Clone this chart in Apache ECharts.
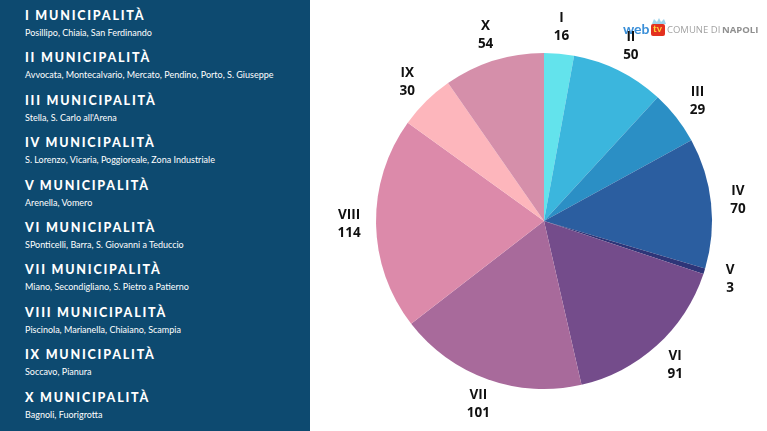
<!DOCTYPE html>
<html lang="it">
<head>
<meta charset="UTF-8">
<title>Municipalità di Napoli</title>
<style>
    html, body { margin: 0; padding: 0; background: #fff; }
    #wrap { position: relative; width: 767px; height: 431px; overflow: hidden; }
    #main { position: absolute; left: 0; top: 0; width: 767px; height: 431px; }
    #panel {
        position: absolute; left: 0; top: 0; width: 310px; height: 431px;
        background: #0d4a70; color: #fff; font-family: Lato, "Open Sans", sans-serif;
    }
    #panel .h {
        position: absolute; left: 25px; font-weight: 900; font-size: 12.5px;
        letter-spacing: 1.8px; line-height: 16px; white-space: nowrap;
    }
    #panel .s {
        position: absolute; left: 25px; font-size: 9px; line-height: 12px; white-space: nowrap;
    }
</style>
</head>
<body>
<div id="wrap">
    <div id="main"></div>
    <div id="panel"></div>
</div>
<script src="https://cdn.jsdelivr.net/npm/echarts@6/dist/echarts.min.js"></script>
<script>
    // municipalità e quartieri
    const categories = ['I', 'II', 'III', 'IV', 'V', 'VI', 'VII', 'VIII', 'IX', 'X'];
    const values = [16, 50, 29, 70, 3, 91, 101, 114, 30, 54];
    const districts = [
        'Posillipo, Chiaia, San Ferdinando',
        'Avvocata, Montecalvario, Mercato, Pendino, Porto, S. Giuseppe',
        'Stella, S. Carlo all\'Arena',
        'S. Lorenzo, Vicaria, Poggioreale, Zona Industriale',
        'Arenella, Vomero',
        'SPonticelli, Barra, S. Giovanni a Teduccio',
        'Miano, Secondigliano, S. Pietro a Patierno',
        'Piscinola, Marianella, Chiaiano, Scampia',
        'Soccavo, Pianura',
        'Bagnoli, Fuorigrotta'
    ];
    const colors = ['#63e3ec', '#3bb6dd', '#2b8fc5', '#2b5ea0', '#2e3578',
                    '#744c8b', '#a86a9b', '#dc8aaa', '#fdb6bc', '#d58faa'];

    // pannello sinistro
    const panel = document.getElementById('panel');
    categories.forEach(function (c, i) {
        const top = 8 + i * 42.4;
        const h = document.createElement('div');
        h.className = 'h';
        h.style.top = top + 'px';
        h.textContent = c + ' MUNICIPALITÀ';
        panel.appendChild(h);
        const s = document.createElement('div');
        s.className = 's';
        s.style.top = (top + 19) + 'px';
        s.textContent = districts[i];
        panel.appendChild(s);
    });

    const myChart = echarts.init(document.getElementById('main'));
    const pieData = categories.map(function (c, i) {
        return { name: c, value: values[i], itemStyle: { color: colors[i] } };
    });

    const option = {
        animation: false,
        graphic: [
            { type: 'text', left: 623, top: 22, style: { text: 'web', fill: '#3a8fd8', font: 'bold 14px Lato, sans-serif' } },
            { type: 'polygon', shape: { points: [[652, 24], [654, 19], [657, 22], [659, 18], [661, 22], [664, 19], [666, 24]] }, style: { fill: '#9fd3ea' } },
            { type: 'rect', shape: { x: 651, y: 24, width: 14, height: 12, r: 2 }, style: { fill: '#e3301f' } },
            { type: 'text', left: 653, top: 24, style: { text: 'tv', fill: '#ffd23c', font: 'bold 10px Lato, sans-serif' } },
            { type: 'text', left: 667, top: 25, style: { text: 'COMUNE DI', fill: '#a3a3a3', font: '9.5px "Open Sans", sans-serif' } },
            { type: 'text', left: 722, top: 25, style: { text: 'NAPOLI', fill: '#8f8f8f', font: 'bold 9.5px "Open Sans", sans-serif' } }
        ],
        series: [
            {
                type: 'pie',
                center: [544, 221],
                radius: 168,
                startAngle: 90,
                clockwise: true,
                silent: true,
                label: { show: false },
                labelLine: { show: false },
                data: pieData
            },
            {
                type: 'pie',
                center: [544, 221],
                radius: [182, 202],
                startAngle: 90,
                clockwise: true,
                silent: true,
                itemStyle: { color: 'transparent' },
                label: {
                    show: true,
                    position: 'inside',
                    formatter: '{b}\n{c}',
                    color: '#111',
                    fontFamily: '"Open Sans", sans-serif',
                    fontWeight: 'bold',
                    fontSize: 13.5,
                    lineHeight: 18
                },
                labelLine: { show: false },
                data: categories.map(function (c, i) { return { name: c, value: values[i] }; })
            }
        ]
    };
    myChart.setOption(option);
</script>
</body>
</html>
